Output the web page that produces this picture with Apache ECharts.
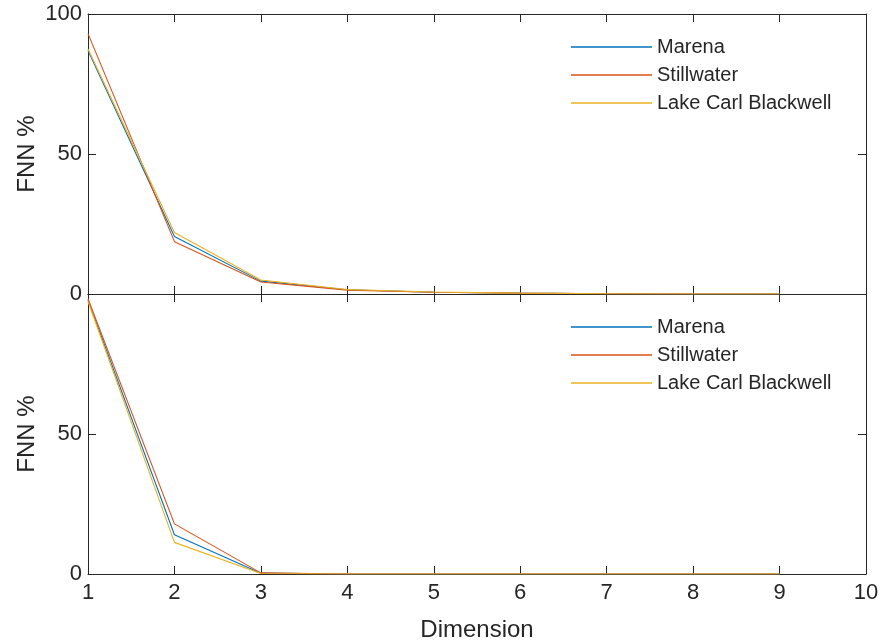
<!DOCTYPE html>
<html>
<head>
<meta charset="utf-8">
<script src="https://cdn.jsdelivr.net/npm/echarts@6/dist/echarts.min.js"></script>
<style>
  html, body { margin: 0; padding: 0; background: #fff; }
  #chart { width: 883px; height: 644px; }
</style>
</head>
<body>
<div id="chart"></div>
<script>
// Embedding dimension on the x axis
const dimensions = [1, 2, 3, 4, 5, 6, 7, 8, 9];
const seriesNames = ['Marena', 'Stillwater', 'Lake Carl Blackwell'];
const colors = ['#0072BD', '#D95319', '#EDB120'];

// Upper panel: false nearest neighbour percentage per station
const topMarena     = [87.0, 20.5, 4.6, 1.5, 0.6, 0.3, 0.1, 0, 0];
const topStillwater = [93.0, 18.7, 4.3, 1.4, 0.6, 0.3, 0.1, 0, 0];
const topLake       = [87.5, 22.0, 5.0, 1.6, 0.7, 0.3, 0.1, 0, 0];

// Lower panel
const botMarena     = [97.8, 14.0, 0.3, 0, 0, 0, 0, 0, 0];
const botStillwater = [98.3, 17.9, 0.4, 0, 0, 0, 0, 0, 0];
const botLake       = [97.3, 11.3, 0.2, 0, 0, 0, 0, 0, 0];

const xTicks = [1, 2, 3, 4, 5, 6, 7, 8, 9, 10];
const yTicks = [0, 50, 100];

const ink = '#262626';
const font = 'Liberation Sans, Arial, Helvetica, sans-serif';

const pairs = (vals) => vals.map((v, i) => [dimensions[i], v]);

function xAxisDef(gridIndex, position, showLabels, name) {
  return {
    type: 'value', gridIndex, position,
    min: xTicks[0], max: xTicks[xTicks.length - 1], interval: 1,
    name: name || '', nameLocation: 'middle', nameGap: 44,
    nameMoveOverlap: false,
    nameTextStyle: { color: ink, fontSize: 24, fontFamily: font },
    axisLine: { show: true, onZero: false, lineStyle: { color: ink, width: 1 } },
    axisTick: { show: true, inside: true, length: 8, lineStyle: { color: ink } },
    axisLabel: { show: showLabels, color: ink, fontSize: 22, fontFamily: font, margin: 8 },
    splitLine: { show: false }
  };
}

function yAxisDef(gridIndex, position, showLabels, hideTop, name) {
  return {
    type: 'value', gridIndex, position,
    min: yTicks[0], max: yTicks[yTicks.length - 1], interval: 50,
    name: name || '', nameLocation: 'middle', nameGap: 49,
    nameMoveOverlap: false,
    nameTextStyle: { color: ink, fontSize: 24, fontFamily: font },
    axisLine: { show: true, onZero: false, lineStyle: { color: ink, width: 1 } },
    axisTick: { show: true, inside: true, length: 8, lineStyle: { color: ink } },
    axisLabel: {
      show: showLabels, color: ink, fontSize: 22, fontFamily: font, margin: 6,
      formatter: (v) => (hideTop && v === 100 ? '' : String(v))
    },
    splitLine: { show: false }
  };
}

function lineSeries(name, vals, xi, yi, color) {
  return {
    type: 'line', name, data: pairs(vals),
    xAxisIndex: xi, yAxisIndex: yi,
    symbol: 'none', smooth: false,
    lineStyle: { color, width: 1.1 },
    itemStyle: { color },
    animation: false
  };
}

function legendDef(top) {
  return {
    orient: 'vertical', left: 566, top,
    data: seriesNames.map((n) => ({ name: n, icon: 'rect' })),
    itemWidth: 81, itemHeight: 1.5, itemGap: 8,
    textStyle: { color: ink, fontSize: 20, fontFamily: font, lineHeight: 20 },
    selectedMode: false
  };
}

const chart = echarts.init(document.getElementById('chart'), null, { renderer: 'canvas' });
chart.setOption({
  backgroundColor: '#ffffff',
  color: colors,
  animation: false,
  grid: [
    { left: 88, right: 17, top: 14, height: 280 },
    { left: 88, right: 17, top: 294, height: 280 }
  ],
  xAxis: [
    xAxisDef(0, 'bottom', false),
    xAxisDef(0, 'top', false),
    xAxisDef(1, 'bottom', true, 'Dimension'),
    xAxisDef(1, 'top', false)
  ],
  yAxis: [
    yAxisDef(0, 'left', true, false, 'FNN %'),
    yAxisDef(0, 'right', false, false),
    yAxisDef(1, 'left', true, true, 'FNN %'),
    yAxisDef(1, 'right', false, false)
  ],
  legend: [legendDef(32), legendDef(312)],
  series: [
    lineSeries(seriesNames[0], topMarena, 0, 0, colors[0]),
    lineSeries(seriesNames[1], topStillwater, 0, 0, colors[1]),
    lineSeries(seriesNames[2], topLake, 0, 0, colors[2]),
    lineSeries(seriesNames[0], botMarena, 2, 2, colors[0]),
    lineSeries(seriesNames[1], botStillwater, 2, 2, colors[1]),
    lineSeries(seriesNames[2], botLake, 2, 2, colors[2])
  ]
});
</script>
</body>
</html>
